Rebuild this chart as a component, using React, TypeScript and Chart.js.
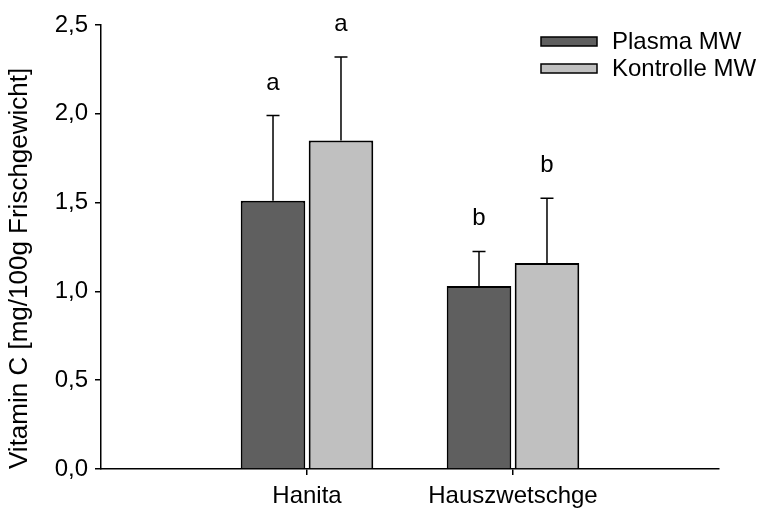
import React, { useEffect, useRef } from 'react';
import { Chart, registerables } from 'chart.js';

Chart.register(...registerables);

const categories = ['Hanita', 'Hauszwetschge'];
const seriesNames = ['Plasma MW', 'Kontrolle MW'];
const plasmaMW = [1.51, 1.03];
const kontrolleMW = [1.85, 1.16];
const plasmaErr = [0.48, 0.195];
const kontrolleErr = [0.47, 0.365];
const plasmaLetters = ['a', 'b'];
const kontrolleLetters = ['a', 'b'];
const yTicks = [0, 0.5, 1.0, 1.5, 2.0, 2.5];
const yTitle = 'Vitamin C [mg/100g Frischgewicht]';

const FONT = '"Liberation Sans", Arial, Helvetica, sans-serif';
const FS = 24;
const DARK = '#5f5f5f';
const LIGHT = '#c0c0c0';

export default function App() {
  const ref = useRef<HTMLCanvasElement>(null);

  useEffect(() => {
    if (!ref.current) return;
    const labels = ['', ...categories, ''];
    const pad = (a: number[]) => [null, ...a, null];
    const errs = [plasmaErr, kontrolleErr];
    const letters = [plasmaLetters, kontrolleLetters];

    const errorPlugin = {
      id: 'errbars',
      afterDatasetsDraw(chart: any) {
        const ctx = chart.ctx;
        const ys = chart.scales.y;
        ctx.save();
        chart.data.datasets.forEach((ds: any, di: number) => {
          const meta = chart.getDatasetMeta(di);
          meta.data.forEach((el: any, i: number) => {
            const v = ds.data[i];
            if (v == null) return;
            const k = i - 1;
            const top = ys.getPixelForValue(v + errs[di][k]);
            ctx.strokeStyle = '#000';
            ctx.lineWidth = 1.5;
            ctx.beginPath();
            ctx.moveTo(el.x, el.y);
            ctx.lineTo(el.x, top);
            ctx.moveTo(el.x - 6.5, top);
            ctx.lineTo(el.x + 6.5, top);
            ctx.stroke();
            ctx.fillStyle = '#000';
            ctx.font = `${FS}px ${FONT}`;
            ctx.textAlign = 'center';
            ctx.textBaseline = 'alphabetic';
            ctx.fillText(letters[di][k], el.x, top - 26);
          });
        });
        ctx.restore();
      },
    };

    const legendPlugin = {
      id: 'customLegend',
      afterDraw(chart: any) {
        const ctx = chart.ctx;
        const ca = chart.chartArea;
        ctx.save();
        chart.data.datasets.forEach((ds: any, di: number) => {
          const bx = ca.right - 178;
          const by = 37 + di * 27;
          ctx.fillStyle = ds.backgroundColor;
          ctx.fillRect(bx, by, 56, 9);
          ctx.strokeStyle = '#000';
          ctx.lineWidth = 1.5;
          ctx.strokeRect(bx, by, 56, 9);
          ctx.fillStyle = '#000';
          ctx.font = `${FS}px ${FONT}`;
          ctx.textAlign = 'left';
          ctx.textBaseline = 'middle';
          ctx.fillText(ds.label, bx + 71, by + 5);
        });
        ctx.restore();
      },
    };

    const chart = new Chart(ref.current, {
      type: 'bar',
      data: {
        labels,
        datasets: [
          {
            label: seriesNames[0],
            data: pad(plasmaMW),
            backgroundColor: DARK,
            borderColor: '#000',
            borderWidth: 2,
            categoryPercentage: 0.66,
            barPercentage: 0.95,
          },
          {
            label: seriesNames[1],
            data: pad(kontrolleMW),
            backgroundColor: LIGHT,
            borderColor: '#000',
            borderWidth: 2,
            categoryPercentage: 0.66,
            barPercentage: 0.95,
          },
        ] as any,
      },
      options: {
        animation: false,
        responsive: false,
        maintainAspectRatio: false,
        layout: { padding: { left: 0, top: 25, right: 39, bottom: 0 } },
        plugins: {
          legend: { display: false },
          tooltip: { enabled: false },
        },
        scales: {
          x: {
            type: 'category',
            offset: false,
            afterFit: (s: any) => {
              s.height = 41;
            },
            grid: {
              display: true,
              offset: false,
              drawOnChartArea: false,
              drawTicks: true,
              tickLength: 6,
              lineWidth: 1.5,
              color: (c: any) => (c.index === 1 || c.index === 2 ? '#000' : 'rgba(0,0,0,0)'),
            },
            border: { display: true, color: '#000', width: 1.5 },
            ticks: {
              color: '#000',
              font: { family: FONT, size: FS },
              padding: 7,
              maxRotation: 0,
              autoSkip: false,
            },
          },
          y: {
            type: 'linear',
            min: yTicks[0],
            max: yTicks[yTicks.length - 1],
            afterFit: (s: any) => {
              s.width = 101;
            },
            afterBuildTicks: (s: any) => {
              s.ticks = yTicks.map((v) => ({ value: v }));
            },
            grid: {
              display: true,
              drawOnChartArea: false,
              drawTicks: true,
              tickLength: 6,
              lineWidth: 1.5,
              color: '#000',
            },
            border: { display: true, color: '#000', width: 1.5 },
            ticks: {
              color: '#000',
              font: { family: FONT, size: FS },
              padding: 7,
              callback: (v: any) => Number(v).toFixed(1).replace('.', ','),
            },
            title: {
              display: true,
              text: yTitle,
              align: 'start',
              color: '#000',
              font: { family: FONT, size: 26 },
              padding: { top: 4, bottom: 0 },
            },
          },
        },
      },
      plugins: [errorPlugin, legendPlugin],
    });
    return () => chart.destroy();
  }, []);

  return (
    <div style={{ position: 'fixed', left: 0, top: 0, width: 758, height: 510, background: '#fff' }}>
      <canvas ref={ref} width={758} height={510} style={{ width: 758, height: 510 }} />
    </div>
  );
}
